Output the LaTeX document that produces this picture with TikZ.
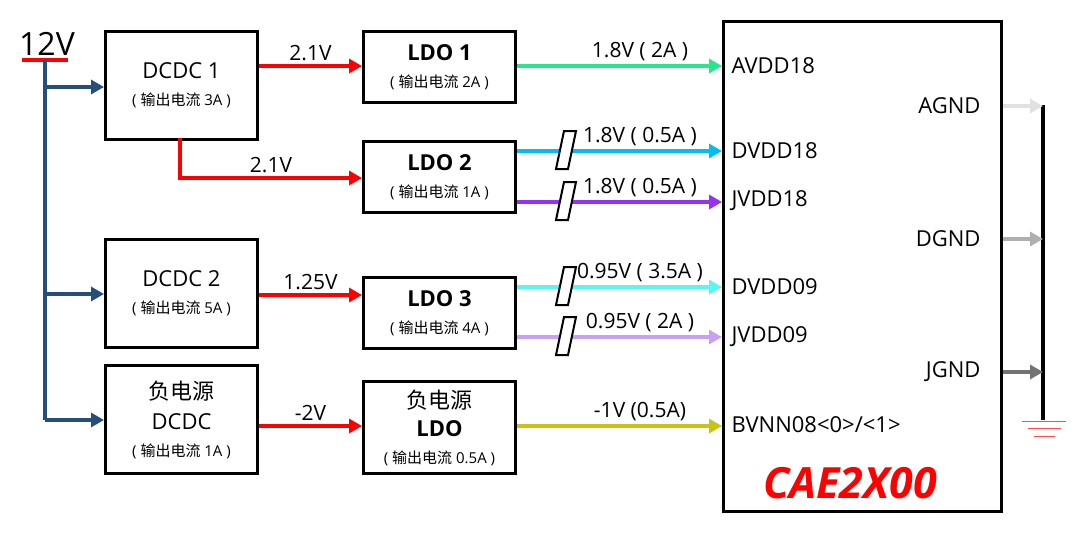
\documentclass[tikz,border=0pt]{standalone}
\usepackage{fontspec}
\setmainfont{Open Sans}
\newfontfamily\cjk{Noto Sans CJK SC}
\usetikzlibrary{arrows.meta}
\definecolor{bl}{RGB}{38,78,122}
\newcommand\Ttl{\fontsize{22}{24}\selectfont}
\newcommand\Sbt{\fontsize{15}{17}\selectfont}
\begin{document}
\begin{tikzpicture}[x=1pt,y=-1pt,
 box/.style={draw,line width=3pt,minimum width=152pt,anchor=north west,align=center,inner sep=0pt,font=\Ttl},
 ar/.style={line width=4pt,-{Triangle[length=13pt,width=14pt]}},
 lbl/.style={font=\fontsize{21}{22}\selectfont},
 pin/.style={font=\fontsize{22}{24}\selectfont,anchor=west},
 gnd/.style={font=\fontsize{22}{24}\selectfont,anchor=east},
 brk/.style={draw,line width=2pt,fill=white}]
\useasboundingbox (0,0) rectangle (1080,533);
% boxes
\node[box,minimum height=108pt] (d1) at (104,30) {DCDC 1\\[3pt]{\Sbt ( {\cjk 输出电流} 3A )}};
\node[box,minimum height=108pt] (d2) at (104,238) {DCDC 2\\[3pt]{\Sbt ( {\cjk 输出电流} 5A )}};
\node[box,minimum height=108pt] (d3) at (104,364) {{\cjk 负电源}\\[6pt]DCDC\\[3pt]{\Sbt ( {\cjk 输出电流} 1A )}};
\node[box,minimum height=71pt] (l1) at (362,30) {\bfseries LDO 1\\[3pt]{\Sbt ( {\cjk 输出电流} 2A )}};
\node[box,minimum height=71pt] (l2) at (362,140) {\bfseries LDO 2\\[3pt]{\Sbt ( {\cjk 输出电流} 1A )}};
\node[box,minimum height=71pt] (l3) at (362,276) {\bfseries LDO 3\\[3pt]{\Sbt ( {\cjk 输出电流} 4A )}};
\node[box,minimum height=92pt] (l4) at (362,380) {{\cjk 负电源}\\[4pt]{\bfseries LDO}\\[3pt]{\Sbt ( {\cjk 输出电流} 0.5A )}};
\node[draw,line width=3pt,minimum width=278pt,minimum height=490pt,anchor=north west] (cae) at (722,20) {};
\node[font=\fontsize{43}{45}\selectfont\bfseries\itshape,text=red] (cn) at (850,483) {CAE2X00};
% 12V
\node[font=\fontsize{32}{34}\selectfont,inner sep=0pt] (v12) at (47,44) {12V};
\draw[red,line width=4pt] (22,60) -- (68,60);
\coordinate (top) at (45,60);
\coordinate (bot) at (45,420);
\draw[bl,line width=4pt] (top) -- (bot);
\foreach \y/\n in {87/d1,294/d2,420/d3}
  \draw[bl,ar] (45,\y) -- (\n.west |- 0,\y);
% red
\draw[red,ar] (d1.east |- 0,66) -- (l1.west |- 0,66) node[midway,above,lbl,black] {2.1V};
\draw[red,ar] (180,138) |- (l2.west |- 0,178) node[pos=0.75,above,lbl,black] {2.1V};
\draw[red,ar] (d2.east |- 0,295) -- (l3.west |- 0,295) node[midway,above,lbl,black] {1.25V};
\draw[red,ar] (d3.east |- 0,426) -- (l4.west |- 0,426) node[midway,above,lbl,black] {-2V};
% outputs
\draw[ar,color={rgb,255:red,40;green,230;blue,140}] (l1.east |- 0,66) -- (cae.west |- 0,66) node[pos=0.6,above,lbl,black] {1.8V ( 2A )};
\draw[ar,color={rgb,255:red,0;green,190;blue,240}] (l2.east |- 0,151) -- (cae.west |- 0,151) node[pos=0.6,above,lbl,black] {1.8V ( 0.5A )};
\draw[ar,color={rgb,255:red,150;green,50;blue,240}] (l2.east |- 0,202) -- (cae.west |- 0,202) node[pos=0.6,above,lbl,black] {1.8V ( 0.5A )};
\draw[ar,color={rgb,255:red,90;green,245;blue,245}] (l3.east |- 0,287) -- (cae.west |- 0,287) node[pos=0.6,above,lbl,black] {0.95V ( 3.5A )};
\draw[ar,color={rgb,255:red,200;green,160;blue,245}] (l3.east |- 0,337) -- (cae.west |- 0,337) node[pos=0.6,above,lbl,black] {0.95V ( 2A )};
\draw[ar,color={rgb,255:red,200;green,195;blue,20}] (l4.east |- 0,426) -- (cae.west |- 0,426) node[pos=0.6,above,lbl,black] {-1V (0.5A)};
% breaks
\foreach \y in {151,202,287,337}
  \draw[brk] (556,\y+18) -- (564,\y-20) -- (576,\y-20) -- (568,\y+18) -- cycle;
% pins
\node[pin] (p1) at (728,66) {AVDD18};
\node[pin] (p2) at (728,151) {DVDD18};
\node[pin] (p3) at (728,201) {JVDD18};
\node[pin] (p4) at (728,287) {DVDD09};
\node[pin] (p5) at (728,337) {JVDD09};
\node[pin] (p6) at (728,425) {BVNN08<0>/<1>};
\node[gnd] (g1) at (984,106) {AGND};
\node[gnd] (g2) at (984,239) {DGND};
\node[gnd] (g3) at (984,372) {JGND};
% ground
\coordinate (gt) at (1043,105);
\coordinate (gb) at (1043,420);
\draw[line width=4pt] (gt) -- (gb);
\draw[ar,color={rgb,255:red,225;green,225;blue,225}] (cae.east |- 0,106) -- (gt |- 0,106);
\draw[ar,color={rgb,255:red,175;green,175;blue,175}] (cae.east |- 0,239) -- (gt |- 0,239);
\draw[ar,color={rgb,255:red,115;green,115;blue,115}] (cae.east |- 0,372) -- (gt |- 0,372);
\draw[red!70,line width=1pt] (1022,421) -- (1066,421) (1028,428) -- (1061,428) (1034,436) -- (1055,436);
\end{tikzpicture}
\end{document}
